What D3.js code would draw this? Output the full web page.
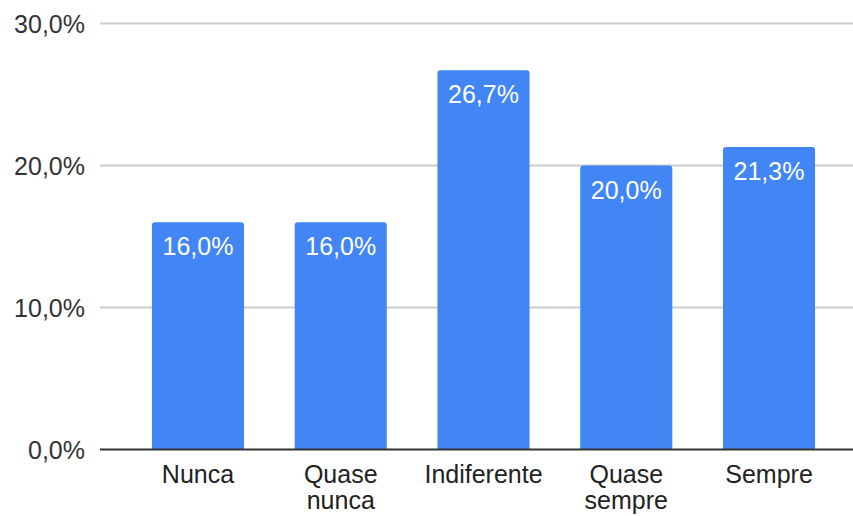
<!DOCTYPE html>
<html>
<head>
<meta charset="utf-8">
<script src="https://cdn.jsdelivr.net/npm/d3@7"></script>
<style>
  html, body { margin: 0; padding: 0; background: #ffffff; }
  svg { display: block; }
  text { font-family: "Liberation Sans", Arial, sans-serif; }
</style>
</head>
<body>
<svg id="chart" width="853" height="516"></svg>
<script>
// Frequency categories (line breaks mark wrapped labels)
const categories = ["Nunca", "Quase\nnunca", "Indiferente", "Quase\nsempre", "Sempre"];
// Share of answers, in percent
const values = [16.0, 16.0, 26.7, 20.0, 21.3];
// Y-axis ticks, in percent
const yTicks = [0, 10, 20, 30];

const width = 853, height = 516;
const svg = d3.select("#chart");

const fmt = v => d3.format(".1f")(v).replace(".", ",") + "%";

const x = d3.scaleBand()
  .domain(categories)
  .range([126.6, 840.4])
  .paddingInner(0.355)
  .paddingOuter(0.1775);

const y = d3.scaleLinear()
  .domain([0, 30])
  .range([449.5, 23.5]);

// Horizontal grid lines and tick labels
const yAxis = d3.axisLeft(y)
  .tickValues(yTicks)
  .tickSize(0)
  .tickPadding(0)
  .tickFormat(fmt);

const gy = svg.append("g").attr("transform", "translate(85,0)").call(yAxis);
gy.select(".domain").remove();
gy.selectAll(".tick text")
  .attr("font-size", 25)
  .attr("fill", "#333333")
  .attr("font-family", "Liberation Sans, Arial, sans-serif")
  .attr("dy", "0.35em");

svg.append("g")
  .selectAll("line")
  .data(yTicks.filter(t => t !== 0))
  .join("line")
  .attr("x1", 100)
  .attr("x2", width)
  .attr("y1", d => y(d))
  .attr("y2", d => y(d))
  .attr("stroke", "#cccccc")
  .attr("stroke-width", 2);

// Bars with slightly rounded top corners
const r = 3;
function barPath(d, i) {
  const x0 = x(categories[i]);
  const w = x.bandwidth();
  const y0 = y(d);
  const yb = y(0);
  return `M${x0},${yb} L${x0},${y0 + r} Q${x0},${y0} ${x0 + r},${y0} ` +
         `L${x0 + w - r},${y0} Q${x0 + w},${y0} ${x0 + w},${y0 + r} L${x0 + w},${yb} Z`;
}

svg.append("g")
  .selectAll("path")
  .data(values)
  .join("path")
  .attr("d", barPath)
  .attr("fill", "#4285f4");

// Baseline
svg.append("line")
  .attr("x1", 100)
  .attr("x2", width)
  .attr("y1", y(0))
  .attr("y2", y(0))
  .attr("stroke", "#333333")
  .attr("stroke-width", 2);

// Value labels inside bar tops
svg.append("g")
  .selectAll("text")
  .data(values)
  .join("text")
  .attr("x", (d, i) => x(categories[i]) + x.bandwidth() / 2)
  .attr("y", d => y(d) + 33)
  .attr("text-anchor", "middle")
  .attr("font-size", 25)
  .attr("fill", "#ffffff")
  .text(d => fmt(d));

// Category labels below the baseline
const xAxis = d3.axisBottom(x).tickSize(0).tickFormat("");
const gx = svg.append("g").attr("transform", `translate(0,${y(0)})`).call(xAxis);
gx.select(".domain").remove();
gx.selectAll(".tick").each(function (d) {
  const t = d3.select(this).append("text")
    .attr("text-anchor", "middle")
    .attr("font-size", 25)
    .attr("fill", "#222222");
  d.split("\n").forEach((line, k) => {
    t.append("tspan")
      .attr("x", 0)
      .attr("y", 33.5 + k * 26)
      .text(line);
  });
});
</script>
</body>
</html>
